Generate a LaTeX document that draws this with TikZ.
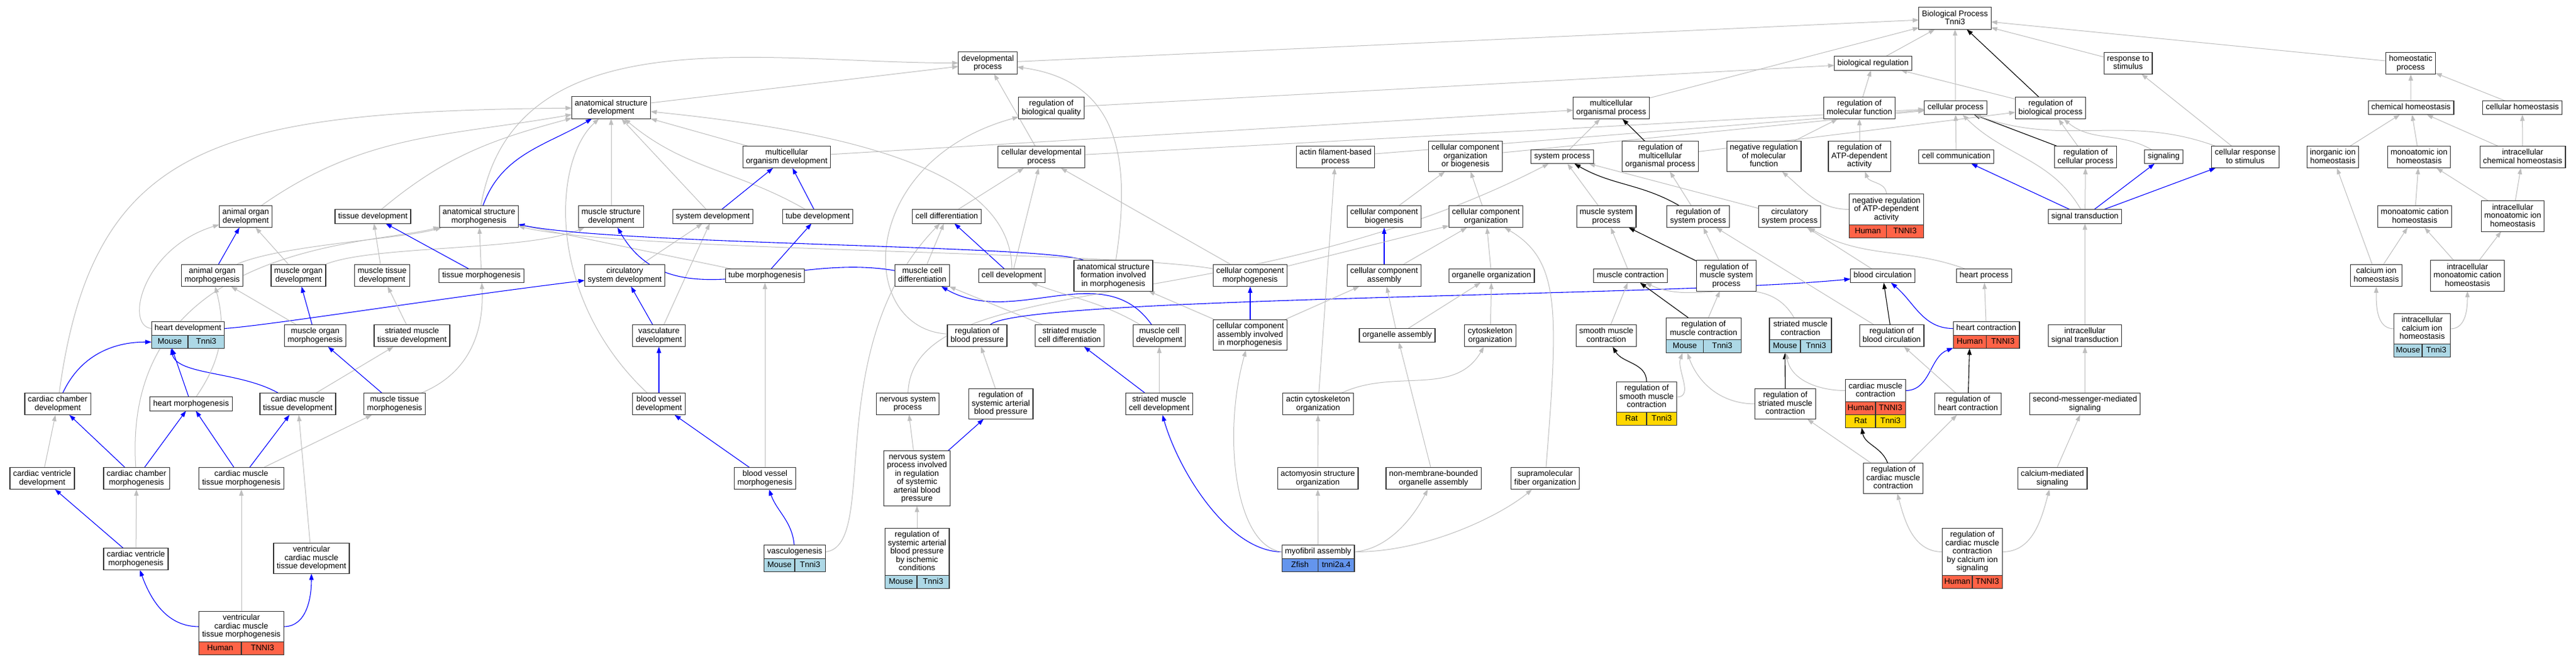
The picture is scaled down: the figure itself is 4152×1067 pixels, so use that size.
\documentclass[tikz,border=0pt]{standalone}
\usepackage{fontspec}
\setmainfont{Liberation Sans}
\usetikzlibrary{arrows.meta,calc}
\definecolor{edgegrey}{HTML}{BEBEBE}
\definecolor{mouse}{HTML}{ADD8E6}
\definecolor{human}{HTML}{FF6347}
\definecolor{rat}{HTML}{FFD700}
\definecolor{zfish}{HTML}{6495ED}
\newcommand{\gofont}{\fontsize{13}{13.5}\selectfont}
\pgfdeclarelayer{edges}
\pgfsetlayers{edges,main}
\tikzset{
	term/.style={draw=black!80,line width=1.1pt,fill=white,align=center,
		inner xsep=5pt,inner ysep=5pt,outer sep=0pt,minimum height=22.5pt,font=\gofont,
		execute at begin node=\vphantom{Ag},execute at end node=\vphantom{Ag}},
	genecell/.style={draw=black!80,line width=1.1pt,inner sep=0pt,outer sep=0pt,
		minimum height=21pt,text height=9.5pt,text depth=2.5pt,font=\gofont},
	isa/.style={draw=edgegrey,line width=1pt,-{Triangle[length=10pt,width=7pt]}},
	partof/.style={draw=blue,line width=1.1pt,-{Triangle[length=10pt,width=7pt]}},
	regulates/.style={draw=black,line width=1.1pt,-{Triangle[length=10pt,width=7pt]}}
}
% species row under a term: left node, right node, name, species, gene, colour
\newcommand{\generow}[6]{%
	\path let \p1=($(#2.south east)-(#1.south west)$) in
		node[genecell,fill=#6,minimum width=0.5*\x1,anchor=north west] (#3s) at (#1.south west) {#4}
		node[genecell,fill=#6,minimum width=0.5*\x1,anchor=north east] (#3g) at (#2.south east) {#5};}
\begin{document}
\begin{tikzpicture}[x=1pt,y=1pt]
	\useasboundingbox (0,0) rectangle (4152,-1067);
	% heart and muscle development
	\node[term] (anorgdev) at (396,-349) {animal organ\\development};
	\node[term] (tissdev) at (601,-349) {tissue development};
	\node[term] (anorgmor) at (342,-444) {animal organ\\morphogenesis};
	\node[term] (musorgdev) at (481,-444) {muscle organ\\development};
	\node[term] (mustisdev) at (616,-444) {muscle tissue\\development};
	\node[term] (heartdev) at (303,-529.5) {heart development};
	\generow{heartdev}{heartdev}{heartdev}{Mouse}{Tnni3}{mouse}
	\node[term] (musorgmor) at (508,-541) {muscle organ\\morphogenesis};
	\node[term] (strmustisdev) at (664,-541) {striated muscle\\tissue development};
	\node[term] (cardchamdev) at (93,-651) {cardiac chamber\\development};
	\node[term] (heartmor) at (308,-651) {heart morphogenesis};
	\node[term] (cardmustisdev) at (480,-651) {cardiac muscle\\tissue development};
	\node[term] (mustismor) at (636,-651) {muscle tissue\\morphogenesis};
	\node[term] (cardventdev) at (68,-771) {cardiac ventricle\\development};
	\node[term] (cardchammor) at (220,-771) {cardiac chamber\\morphogenesis};
	\node[term] (cardmustismor) at (389,-771) {cardiac muscle\\tissue morphogenesis};
	\node[term] (cardventmor) at (219,-901) {cardiac ventricle\\morphogenesis};
	\node[term] (ventcardmustisdev) at (502,-900) {ventricular\\cardiac muscle\\tissue development};
	\node[term] (ventcardmustismor) at (389,-1010) {ventricular\\cardiac muscle\\tissue morphogenesis};
	\generow{ventcardmustismor}{ventcardmustismor}{ventcardmustismor}{Human}{TNNI3}{human}
	% anatomical structures
	\node[term] (anatstrdev) at (985,-173.5) {anatomical structure\\development};
	\node[term] (multorgdev) at (1268,-253) {multicellular\\organism development};
	\node[term] (anatstrmor) at (772,-349) {anatomical structure\\morphogenesis};
	\node[term] (musstrdev) at (985,-349) {muscle structure\\development};
	\node[term] (sysdev) at (1149,-349) {system development};
	\node[term] (tubedev) at (1318,-349) {tube development};
	\node[term] (tissmor) at (776,-444.5) {tissue morphogenesis};
	\node[term] (circsysdev) at (1007,-444) {circulatory\\system development};
	\node[term] (tubemor) at (1233,-444.5) {tube morphogenesis};
	\node[term] (vascdev) at (1062,-541) {vasculature\\development};
	\node[term] (bvdev) at (1062,-651) {blood vessel\\development};
	\node[term] (bvmor) at (1233,-771) {blood vessel\\morphogenesis};
	\node[term] (vasculogen) at (1281,-889.5) {vasculogenesis};
	\generow{vasculogen}{vasculogen}{vasculogen}{Mouse}{Tnni3}{mouse}
	% cells and blood pressure
	\node[term] (devproc) at (1592,-101.5) {developmental\\process};
	\node[term] (regbioqual) at (1694.5,-174) {regulation of\\biological quality};
	\node[term] (celldevproc) at (1678.5,-253) {cellular developmental\\process};
	\node[term] (celldiff) at (1526,-349) {cell differentiation};
	\node[term] (muscelldiff) at (1486.5,-444) {muscle cell\\differentiation};
	\node[term] (celldevt) at (1631,-444.5) {cell development};
	\node[term] (anatstrform) at (1794.5,-444.5) {anatomical structure\\formation involved\\in morphogenesis};
	\node[term] (cellcompmor) at (2015,-444) {cellular component\\morphogenesis};
	\node[term] (regbp) at (1575,-541) {regulation of\\blood pressure};
	\node[term] (strmuscelldiff) at (1724,-541) {striated muscle\\cell differentiation};
	\node[term] (muscelldev) at (1868.5,-541) {muscle cell\\development};
	\node[term] (cellcompassmor) at (2015,-540) {cellular component\\assembly involved\\in morphogenesis};
	\node[term] (nervsysproc) at (1463,-651) {nervous system\\process};
	\node[term] (regsysartbp) at (1613,-651) {regulation of\\systemic arterial\\blood pressure};
	\node[term] (strmuscelldev) at (1868.5,-651) {striated muscle\\cell development};
	\node[term] (nervsysinv) at (1478,-771) {nervous system\\process involved\\in regulation\\of systemic\\arterial blood\\pressure};
	\node[term] (regsysartbpisch) at (1478,-889.5) {regulation of\\systemic arterial\\blood pressure\\by ischemic\\conditions};
	\generow{regsysartbpisch}{regsysartbpisch}{regsysartbpisch}{Mouse}{Tnni3}{mouse}
	% components and muscle processes
	\node[term] (multorgproc) at (2597,-174) {multicellular\\organismal process};
	\node[term] (actinfil) at (2152.5,-253) {actin filament-based\\process};
	\node[term] (cellcomporgbio) at (2362,-252) {cellular component\\organization\\or biogenesis};
	\node[term] (sysproc) at (2518,-252.5) {system process};
	\node[term] (regmultorgproc) at (2676,-252) {regulation of\\multicellular\\organismal process};
	\node[term] (cellcompbio) at (2231,-349) {cellular component\\biogenesis};
	\node[term] (cellcomporg) at (2395,-349) {cellular component\\organization};
	\node[term] (mussysproc) at (2589,-349) {muscle system\\process};
	\node[term] (regsysproc) at (2737,-349) {regulation of\\system process};
	\node[term] (cellcompass) at (2231,-444) {cellular component\\assembly};
	\node[term] (organelleorg) at (2404,-444.5) {organelle organization};
	\node[term] (muscontr) at (2628,-444.5) {muscle contraction};
	\node[term] (regmussysproc) at (2782.5,-444.5) {regulation of\\muscle system\\process};
	\node[term] (organelleass) at (2252,-540.5) {organelle assembly};
	\node[term] (cytoskorg) at (2402,-541) {cytoskeleton\\organization};
	\node[term] (smoothmuscontr) at (2589,-541) {smooth muscle\\contraction};
	\node[term,minimum width=120.5pt] (regmuscontr) at (2745.8,-530) {regulation of\\muscle contraction};
	\generow{regmuscontr}{regmuscontr}{regmuscontr}{Mouse}{Tnni3}{mouse}
	\node[term,minimum width=100pt] (strmuscontr) at (2902,-530) {striated muscle\\contraction};
	\generow{strmuscontr}{strmuscontr}{strmuscontr}{Mouse}{Tnni3}{mouse}
	\node[term] (actincytoorg) at (2124.5,-651) {actin cytoskeleton\\organization};
	\node[term] (regsmoothmus) at (2654,-640) {regulation of\\smooth muscle\\contraction};
	\generow{regsmoothmus}{regsmoothmus}{regsmoothmus}{Rat}{Tnni3}{rat}
	\node[term] (actomyosin) at (2124,-771) {actomyosin structure\\organization};
	\node[term] (nonmem) at (2310.5,-771) {non-membrane-bounded\\organelle assembly};
	\node[term] (supramol) at (2490.5,-771) {supramolecular\\fiber organization};
	\node[term] (myofibril) at (2124.5,-889.5) {myofibril assembly};
	\generow{myofibril}{myofibril}{myofibril}{Zfish}{tnni2a.4}{zfish}
	% regulation, circulation and signalling
	\node[term] (bp) at (3151,-29.5) {Biological Process\\Tnni3};
	\node[term] (bioreg) at (3019,-102) {biological regulation};
	\node[term] (regmolfunc) at (2997,-174) {regulation of\\molecular function};
	\node[term] (cellproc) at (3152,-173.5) {cellular process};
	\node[term] (regbioproc) at (3305,-174) {regulation of\\biological process};
	\node[term] (respstim) at (3430,-102) {response to\\stimulus};
	\node[term] (negregmolfunc) at (2843,-252) {negative regulation\\of molecular\\function};
	\node[term] (regatp) at (2997,-252) {regulation of\\ATP-dependent\\activity};
	\node[term] (cellcomm) at (3153,-252.5) {cell communication};
	\node[term] (regcellproc) at (3361.5,-253) {regulation of\\cellular process};
	\node[term] (negregatp) at (3040.5,-337.5) {negative regulation\\of ATP-dependent\\activity};
	\generow{negregatp}{negregatp}{negregatp}{Human}{TNNI3}{human}
	\node[term] (circsysproc) at (2884.5,-349) {circulatory\\system process};
	\node[term] (sigtrans) at (3360.5,-349) {signal transduction};
	\node[term] (bloodcirc) at (3034.5,-444.5) {blood circulation};
	\node[term] (heartproc) at (3198,-444.5) {heart process};
	\node[term] (regbloodcirc) at (3049,-541) {regulation of\\blood circulation};
	\node[term] (heartcontr) at (3201.5,-529.5) {heart contraction};
	\generow{heartcontr}{heartcontr}{heartcontr}{Human}{TNNI3}{human}
	\node[term] (intrasig) at (3360.5,-541) {intracellular\\signal transduction};
	\node[term] (regstrmuscontr) at (2877.5,-651) {regulation of\\striated muscle\\contraction};
	\node[term] (cardmuscontr) at (3023,-629.5) {cardiac muscle\\contraction};
	\generow{cardmuscontr}{cardmuscontr}{cardmuscontr}{Human}{TNNI3}{human}
	\generow{cardmuscontrs}{cardmuscontrg}{cardmuscontrr}{Rat}{Tnni3}{rat}
	\node[term] (regheartcontr) at (3172,-651) {regulation of\\heart contraction};
	\node[term] (secmess) at (3360.5,-651) {second-messenger-mediated\\signaling};
	\node[term] (regcardmuscontr) at (3051.5,-771) {regulation of\\cardiac muscle\\contraction};
	\node[term] (calmed) at (3308,-771) {calcium-mediated\\signaling};
	\node[term] (regcardcal) at (3179,-889.5) {regulation of\\cardiac muscle\\contraction\\by calcium ion\\signaling};
	\generow{regcardcal}{regcardcal}{regcardcal}{Human}{TNNI3}{human}
	\node[term] (signaling) at (3487.5,-252.5) {signaling};
	\node[term] (cellresp) at (3619,-253) {cellular response\\to stimulus};
	% homeostasis
	\node[term] (homeo) at (3885.5,-102) {homeostatic\\process};
	\node[term] (chemhomeo) at (3886,-173.5) {chemical homeostasis};
	\node[term] (cellhomeo) at (4065.5,-173.5) {cellular homeostasis};
	\node[term] (inorghomeo) at (3760,-253) {inorganic ion\\homeostasis};
	\node[term] (monohomeo) at (3899,-253) {monoatomic ion\\homeostasis};
	\node[term] (intrachem) at (4066,-253) {intracellular\\chemical homeostasis};
	\node[term] (monocation) at (3892,-349) {monoatomic cation\\homeostasis};
	\node[term] (intramono) at (4050,-348.5) {intracellular\\monoatomic ion\\homeostasis};
	\node[term] (calhomeo) at (3830,-444) {calcium ion\\homeostasis};
	\node[term] (intramonocat) at (3977,-444.5) {intracellular\\monoatomic cation\\homeostasis};
	\node[term,minimum width=91pt] (intracal) at (3904,-530) {intracellular\\calcium ion\\homeostasis};
	\generow{intracal}{intracal}{intracal}{Mouse}{Tnni3}{mouse}
	\begin{pgfonlayer}{edges}
		\fill[white] (0,0) rectangle (4152,-1067);
		% heart and muscle development
		\draw[partof] (cardchamdev) to[out=65,in=180] (heartdevs);
		\draw[partof] (heartmor) -- (heartdevs);
		\draw[partof] (cardmustisdev) .. controls (385,-598) and (285,-605) .. (heartdevs);
		\draw[isa] (cardchamdev) .. controls (150,-230) and (350,-180) .. (anatstrdev);
		\draw[isa] (cardventdev) -- (cardchamdev);
		\draw[partof] (cardchammor) -- (cardchamdev);
		\draw[partof] (cardchammor) -- (heartmor);
		\draw[isa] (cardchammor) .. controls (195,-390) and (600,-395) .. (anatstrmor);
		\draw[isa] (heartmor) to[out=55,in=-75] (anorgmor);
		\draw[partof] (cardmustismor) -- (heartmor);
		\draw[partof] (cardmustismor) -- (cardmustisdev);
		\draw[isa] (cardmustismor) -- (mustismor);
		\draw[isa] (cardmustisdev) -- (strmustisdev);
		\draw[partof] (mustismor) -- (musorgmor);
		\draw[isa] (mustismor) .. controls (760,-600) and (780,-530) .. (tissmor);
		\draw[partof] (cardventmor) -- (cardventdev);
		\draw[isa] (cardventmor) -- (cardchammor);
		\draw[partof] (ventcardmustismor.west) to[out=180,in=-70] (cardventmor);
		\draw[partof] (ventcardmustismor.east) to[out=0,in=-90] (ventcardmustisdev);
		\draw[isa] (ventcardmustismor) -- (cardmustismor);
		\draw[isa] (ventcardmustisdev) -- (cardmustisdev);
		\draw[isa] (heartdev.west) .. controls (200,-525) and (230,-400) .. (anorgdev);
		\draw[partof] (heartdev.east) .. controls (430,-525) and (700,-482) .. (circsysdev);
		\draw[partof] (anorgmor) -- (anorgdev);
		\draw[isa] (musorgdev) -- (anorgdev);
		\draw[isa] (musorgmor) -- (anorgmor);
		\draw[partof] (musorgmor) -- (musorgdev);
		\draw[isa] (strmustisdev) -- (mustisdev);
		\draw[isa] (mustisdev) -- (tissdev);
		\draw[isa] (anorgmor) .. controls (450,-395) and (650,-385) .. (anatstrmor);
		\draw[isa] (musorgdev) .. controls (600,-395) and (850,-405) .. (musstrdev);
		% anatomical structures
		\draw[isa] (anorgdev) to[out=35,in=190] (anatstrdev);
		\draw[isa] (tissdev) to[out=40,in=195] (anatstrdev);
		\draw[partof] (tissmor) -- (tissdev);
		\draw[isa] (tissmor) -- (anatstrmor);
		\draw[partof] (anatstrmor) to[out=70,in=210] (anatstrdev);
		\draw[isa] (anatstrmor) to[out=80,in=180] (devproc);
		\draw[isa] (musstrdev) -- (anatstrdev);
		\draw[isa] (sysdev) -- (anatstrdev);
		\draw[isa] (tubedev) to[out=150,in=-40] (anatstrdev);
		\draw[isa] (multorgdev) -- (anatstrdev);
		\draw[isa] (anatstrdev) -- (devproc);
		\draw[partof] (sysdev) -- (multorgdev);
		\draw[partof] (tubedev) -- (multorgdev);
		\draw[isa] (multorgdev) -- (multorgproc);
		\draw[isa] (circsysdev) -- (sysdev);
		\draw[partof] (vascdev) -- (circsysdev);
		\draw[isa] (vascdev) -- (sysdev);
		\draw[partof] (bvdev) -- (vascdev);
		\draw[isa] (bvdev) .. controls (880,-480) and (890,-260) .. (anatstrdev);
		\draw[partof] (bvmor) -- (bvdev);
		\draw[isa] (bvmor) -- (tubemor);
		\draw[partof] (tubemor) -- (tubedev);
		\draw[isa] (tubemor) -- (anatstrmor);
		\draw[partof] (vasculogen) to[out=95,in=-70] (bvmor);
		\draw[isa] (vasculogen.east) .. controls (1420,-880) and (1320,-560) .. (celldiff);
		% cells and blood pressure
		\draw[isa] (devproc) -- (bp);
		\draw[isa] (celldevproc) -- (devproc);
		\draw[isa] (anatstrform) .. controls (1825,-250) and (1800,-130) .. (devproc);
		\draw[isa] (regbp) .. controls (1380,-530) and (1380,-260) .. (regbioqual);
		\draw[isa] (regbioqual) -- (bioreg);
		\draw[isa] (celldevproc) -- (cellproc);
		\draw[isa] (celldiff) -- (celldevproc);
		\draw[isa] (celldevt) -- (celldevproc);
		\draw[isa] (cellcompmor) -- (celldevproc);
		\draw[isa] (muscelldiff) -- (celldiff);
		\draw[partof] (celldevt) -- (celldiff);
		\draw[isa] (celldevt) .. controls (1630,-300) and (1450,-220) .. (anatstrdev);
		\draw[partof] (muscelldiff) to[out=170,in=-60] (musstrdev);
		\draw[partof] (anatstrform) .. controls (1700,-395) and (1000,-395) .. (anatstrmor);
		\draw[isa] (cellcompmor) .. controls (1800,-405) and (1000,-405) .. (anatstrmor);
		\draw[partof] (muscelldev) to[out=125,in=-30] (muscelldiff);
		\draw[isa] (muscelldev) to[out=150,in=-20] (celldevt);
		\draw[isa] (strmuscelldiff) -- (muscelldiff);
		\draw[isa] (cellcompassmor) -- (anatstrform);
		\draw[partof] (cellcompassmor) -- (cellcompmor);
		\draw[partof] (regbp) .. controls (1650,-478) and (2700,-478) .. (bloodcirc);
		\draw[isa] (regsysartbp) -- (regbp);
		\draw[isa] (nervsysinv) -- (nervsysproc);
		\draw[partof] (nervsysinv) -- (regsysartbp);
		\draw[isa] (regsysartbpisch) -- (nervsysinv);
		\draw[isa] (nervsysproc) .. controls (1470,-430) and (2000,-520) .. (sysproc);
		\draw[partof] (strmuscelldev) -- (strmuscelldiff);
		\draw[isa] (strmuscelldev) -- (muscelldev);
		\draw[partof] (myofibril.west) .. controls (1980,-889) and (1900,-760) .. (strmuscelldev);
		\draw[isa] (myofibril.west) .. controls (1990,-880) and (1970,-700) .. (cellcompassmor);
		% components and muscle processes
		\draw[isa] (actinfil) -- (cellproc);
		\draw[isa] (cellcomporgbio) -- (cellproc);
		\draw[isa] (cellcompbio) -- (cellcomporgbio);
		\draw[isa] (cellcomporg) -- (cellcomporgbio);
		\draw[partof] (cellcompass) -- (cellcompbio);
		\draw[isa] (cellcompass) -- (cellcomporg);
		\draw[isa] (cellcompmor) -- (cellcomporg);
		\draw[isa] (organelleorg) -- (cellcomporg);
		\draw[isa] (cytoskorg) -- (organelleorg);
		\draw[isa] (organelleass) -- (organelleorg);
		\draw[isa] (organelleass) -- (cellcompass);
		\draw[isa] (cellcompassmor) -- (cellcompass);
		\draw[isa] (supramol) .. controls (2512,-500) and (2515,-420) .. (cellcomporg);
		\draw[isa] (actincytoorg) -- (actinfil);
		\draw[isa] (actincytoorg) to[out=25,in=-120] (cytoskorg);
		\draw[isa] (actomyosin) -- (actincytoorg);
		\draw[isa] (nonmem) -- (organelleass);
		\draw[isa] (myofibril) -- (actomyosin);
		\draw[isa] (myofibril.east) .. controls (2240,-885) and (2280,-830) .. (nonmem);
		\draw[isa] (myofibril.east) .. controls (2300,-890) and (2420,-830) .. (supramol);
		\draw[isa] (sysproc) -- (multorgproc);
		\draw[regulates] (regmultorgproc) -- (multorgproc);
		\draw[isa] (regmultorgproc) -- (regbioproc);
		\draw[isa] (multorgproc) -- (bp);
		\draw[isa] (mussysproc) -- (sysproc);
		\draw[regulates] (regsysproc) to[out=150,in=-30] (sysproc);
		\draw[isa] (regsysproc) -- (regmultorgproc);
		\draw[isa] (circsysproc) -- (sysproc);
		\draw[isa] (muscontr) -- (mussysproc);
		\draw[regulates] (regmussysproc) -- (mussysproc);
		\draw[isa] (smoothmuscontr) -- (muscontr);
		\draw[regulates] (regmuscontr) -- (muscontr);
		\draw[isa] (strmuscontr) to[out=120,in=-25] (muscontr);
		\draw[isa] (regmuscontr) -- (regmussysproc);
		\draw[isa] (regmussysproc) -- (regsysproc);
		\draw[regulates] (regsmoothmus) to[out=90,in=-60] (smoothmuscontr);
		\draw[isa] (regsmoothmus.east) to[out=0,in=-110] (regmuscontrs);
		\draw[regulates] (regstrmuscontr) -- (strmuscontrs);
		\draw[isa] (regstrmuscontr.west) to[out=180,in=-70] (regmuscontrs);
		\draw[isa] (cardmuscontr.west) to[out=180,in=-80] (strmuscontrs);
		\draw[partof] (cardmuscontr.east) to[out=0,in=200] (heartcontrs);
		\draw[regulates] (regcardmuscontr) to[out=110,in=-80] (cardmuscontrrs);
		\draw[isa] (regcardmuscontr) -- (regstrmuscontr);
		\draw[isa] (regcardmuscontr) -- (regheartcontr);
		% regulation, circulation and signalling
		\draw[regulates] (regheartcontr) -- (heartcontrs);
		\draw[isa] (regheartcontr) -- (regbloodcirc);
		\draw[isa] (regcardcal.west) to[out=180,in=-75] (regcardmuscontr);
		\draw[isa] (regcardcal.east) to[out=0,in=-105] (calmed);
		\draw[isa] (calmed) -- (secmess);
		\draw[isa] (secmess) -- (intrasig);
		\draw[isa] (intrasig) -- (sigtrans);
		\draw[regulates] (regbloodcirc) -- (bloodcirc);
		\draw[partof] (heartcontr.west) to[out=180,in=-40] (bloodcirc);
		\draw[isa] (heartcontr) -- (heartproc);
		\draw[isa] (bloodcirc) -- (circsysproc);
		\draw[isa] (heartproc) to[out=160,in=-30] (circsysproc);
		\draw[isa] (regbloodcirc) -- (regsysproc);
		\draw[isa] (negregatp) to[out=90,in=-70] (regatp);
		\draw[isa] (negregatp.west) to[out=180,in=-40] (negregmolfunc);
		\draw[isa] (negregmolfunc) -- (regmolfunc);
		\draw[isa] (regatp) -- (regmolfunc);
		\draw[isa] (regmolfunc) -- (bioreg);
		\draw[isa] (bioreg) -- (bp);
		\draw[isa] (cellproc) -- (bp);
		\draw[regulates] (regbioproc) -- (bp);
		\draw[isa] (regbioproc) -- (bioreg);
		\draw[isa] (respstim) -- (bp);
		\draw[isa] (homeo) -- (bp);
		\draw[isa] (cellcomm) -- (cellproc);
		\draw[regulates] (regcellproc) -- (cellproc);
		\draw[isa] (regcellproc) -- (regbioproc);
		\draw[partof] (sigtrans) -- (cellcomm);
		\draw[isa] (sigtrans) -- (regcellproc);
		\draw[isa] (sigtrans) to[out=120,in=-45] (cellproc);
		\draw[partof] (sigtrans) -- (signaling);
		\draw[partof] (sigtrans) -- (cellresp);
		\draw[isa] (signaling) to[out=150,in=-40] (regbioproc);
		\draw[isa] (cellresp) to[out=160,in=-20] (cellproc);
		\draw[isa] (cellresp) -- (respstim);
		% homeostasis
		\draw[isa] (chemhomeo) -- (homeo);
		\draw[isa] (cellhomeo) -- (homeo);
		\draw[isa] (inorghomeo) -- (chemhomeo);
		\draw[isa] (monohomeo) -- (chemhomeo);
		\draw[isa] (intrachem) -- (chemhomeo);
		\draw[isa] (intrachem) -- (cellhomeo);
		\draw[isa] (monocation) -- (monohomeo);
		\draw[isa] (intramono) -- (monohomeo);
		\draw[isa] (intramono) -- (intrachem);
		\draw[isa] (calhomeo) -- (inorghomeo);
		\draw[isa] (calhomeo) -- (monocation);
		\draw[isa] (intramonocat) -- (monocation);
		\draw[isa] (intramonocat) -- (intramono);
		\draw[isa] (intracal.west) to[out=180,in=-90] (calhomeo);
		\draw[isa] (intracal.east) to[out=0,in=-90] (intramonocat);
	\end{pgfonlayer}
\end{tikzpicture}
\end{document}
